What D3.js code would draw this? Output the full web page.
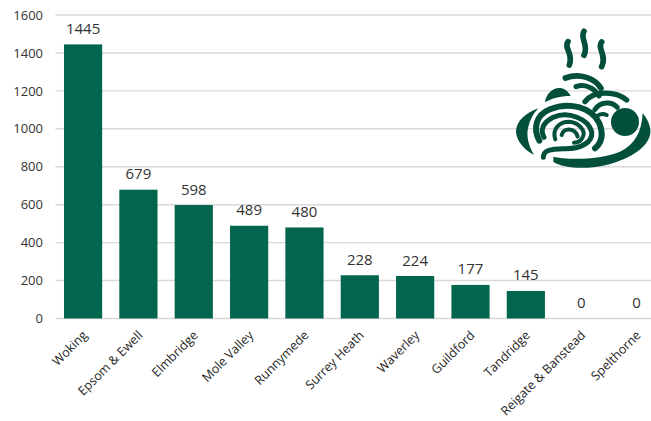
<!DOCTYPE html>
<html>
<head>
<meta charset="utf-8">
<script src="https://cdn.jsdelivr.net/npm/d3@7/dist/d3.min.js"></script>
<style>
html,body{margin:0;padding:0;background:#fff;overflow:hidden}
svg{display:block}
text{font-family:"Open Sans","Noto Sans",sans-serif}
</style>
</head>
<body>
<svg id="c" width="651" height="421"></svg>
<script>
const categories = ["Woking","Epsom & Ewell","Elmbridge","Mole Valley","Runnymede","Surrey Heath","Waverley","Guildford","Tandridge","Reigate & Banstead","Spelthorne"];
const values = [1445,679,598,489,480,228,224,177,145,0,0];
const yTicks = [0,200,400,600,800,1000,1200,1400,1600];

const svg = d3.select("#c");
const x = d3.scaleBand().domain(categories).range([55.4,664.2]).paddingInner(0.31).paddingOuter(0.155);
const y = d3.scaleLinear().domain([0,1600]).range([318.5,15]);

svg.append("g").selectAll("line").data(yTicks).join("line")
  .attr("x1",55.4).attr("x2",651).attr("y1",d=>y(d)).attr("y2",d=>y(d))
  .attr("stroke","#d9d9d9").attr("stroke-width",1.4);

const yAxis = d3.axisLeft(y).tickValues(yTicks).tickSize(0).tickPadding(0).tickFormat(d3.format("d"));
const gy = svg.append("g").attr("transform","translate(43,0)").call(yAxis);
gy.select(".domain").remove();
gy.selectAll("text").attr("font-size",13).attr("fill","#333333");

svg.append("g").selectAll("rect").data(values).join("rect")
  .attr("x",(d,i)=>x(categories[i])).attr("width",x.bandwidth())
  .attr("y",d=>y(d)).attr("height",d=>y(0)-y(d))
  .attr("fill","#02654d");

svg.append("g").selectAll("text").data(values).join("text")
  .attr("x",(d,i)=>x(categories[i])+x.bandwidth()/2)
  .attr("y",d=>y(d)-10.5).attr("text-anchor","middle").attr("font-size",15).attr("fill","#333333")
  .text(d=>d);

const xAxis = d3.axisBottom(x).tickSize(0).tickPadding(0);
const gx = svg.append("g").attr("transform","translate(0,318.5)").call(xAxis);
gx.select(".domain").remove();
gx.selectAll("text")
  .attr("text-anchor","end").attr("font-size",12.5).attr("fill","#262626")
  .attr("dy",0).attr("y",0)
  .attr("transform","translate(5,17.5) rotate(-45)");

// Decorative plate icon, traced in a 3x coordinate space
const ink = "#024f3b";
const icon = svg.append("g").attr("transform","translate(500,20) scale(0.3333)");
const strokes = [
 ["M204,65C190,85 222,100 208,135",17],
 ["M252,34C238,55 268,75 252,106",17],
 ["M305,66C290,85 322,105 305,140",17],
 ["M118,362C98,325 108,285 150,268C205,245 275,260 298,310C312,345 305,368 285,385",18],
 ["M130,412C130,392 150,386 190,386C240,388 280,368 275,335C265,297 205,272 160,292C128,308 120,330 132,352",15],
 ["M166,358C155,325 180,305 208,305C240,308 258,335 248,352C243,364 232,368 222,368",12],
 ["M185,345C190,322 225,322 233,350",12],
 ["M255,245C280,212 345,212 380,240",16],
 ["M285,268C300,245 335,242 352,262",15],
 ["M228,200C255,190 285,205 297,228",15],
 ["M196,174C240,158 285,175 303,205",17],
 ["M290,290C300,280 310,280 320,285",12]
];
icon.selectAll("path.s").data(strokes).join("path").attr("class","s")
  .attr("d",d=>d[0]).attr("fill","none").attr("stroke",ink).attr("stroke-width",d=>d[1]).attr("stroke-linecap","round");
const fills = [
 "M135,247C140,205 190,185 212,228C180,228 155,235 135,247Z",
 "M115,265C75,280 48,305 48,335C50,365 75,390 102,405C85,375 78,345 85,320C90,300 100,280 115,265Z",
 "M160,410C200,420 300,420 360,395C405,375 425,335 428,280C445,300 455,325 450,345C440,390 370,430 280,442C230,447 180,440 160,425Z"
];
icon.selectAll("path.f").data(fills).join("path").attr("class","f").attr("d",d=>d).attr("fill",ink);
icon.append("circle").attr("cx",375).attr("cy",306).attr("r",42).attr("fill",ink);
</script>
</body>
</html>
